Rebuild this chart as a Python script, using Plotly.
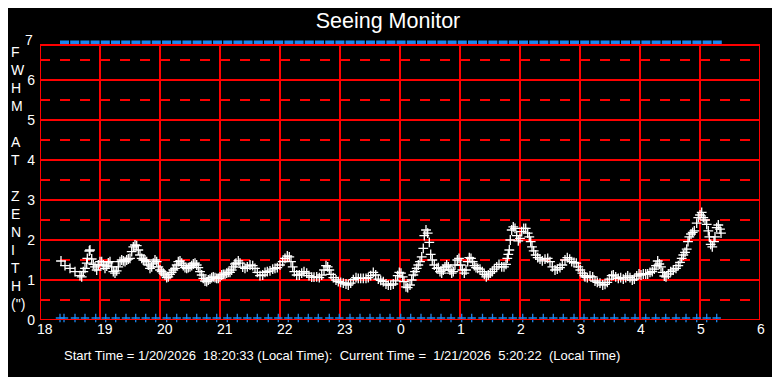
import plotly.graph_objects as go

# ---------------- data ----------------
# minutes after 18:00 local time (20 Jan 2026) and FWHM at zenith (arcsec)
fwhm_minutes = [
    21, 25, 30, 35, 40, 41.7, 43.3, 45, 46.7, 47.3, 49.3, 50, 51.7, 53.3, 55, 56.7, 58.3, 60,
    61.7, 63.3, 65, 66.7, 68.3, 70, 71.7, 73.3, 75, 76.7, 78.3, 80, 81.7, 83.3, 85, 86.7, 88.3,
    90, 91.7, 93.3, 95, 96.7, 98.3, 100, 101.7, 103.3, 105, 106.7, 108.3, 110, 111.7, 113.3,
    115, 116.7, 118.3, 120, 121.7, 123.3, 125, 126.7, 128.3, 130, 131.7, 133.3, 135, 136.7,
    138.3, 140, 141.7, 143.3, 145, 146.7, 148.3, 150, 151.7, 153.3, 155, 156.7, 158.3, 160,
    161.7, 163.3, 165, 166.7, 168.3, 170, 171.7, 173.3, 175, 176.7, 178.3, 180, 181.7, 183.3,
    185, 186.7, 188.3, 190, 191.7, 193.3, 195,
    196, 198.3, 200, 202.7, 205, 207.3, 210, 212.7, 215, 217.3, 220, 222.7, 225, 227.3, 230,
    232.7, 235, 237.3, 240, 242.7, 245, 247.3, 249.3, 251, 252.7, 254.3, 256.7, 259.3, 261.7,
    264, 266.7, 269, 271.7, 274, 276.7, 279.3, 281.7, 284, 286, 287.7, 289.3, 291, 293.3, 296,
    298.3, 300.7, 303.3, 306, 308.3, 310.7, 313.3, 316, 318.3, 320.7, 323.3, 326, 328.3, 330.7,
    333.3, 335.7, 338.3, 340.7, 343.3, 346, 348.3, 350.7, 353.3, 355.7, 357.7, 359.3, 361,
    362.7, 364, 366, 367.7,
    370, 371.7, 373.3, 375, 376.7, 378.3, 380, 381.7, 383.3, 384.3, 386, 387.7, 389.3, 390.7,
    392.3, 394.3, 396.7, 398.3, 400, 401.7, 403.3, 405, 406.7, 408.3, 410, 411.7, 413.3, 415,
    417.3, 419, 420.7, 422.3, 424.3, 426, 427.7, 429.3, 431, 432.7, 434.3, 436, 437.7, 440,
    442.3, 444.3, 446.3, 448.3, 450.3, 452.3, 454.3, 456.7, 459, 461.7, 464, 466, 467.3, 468.3,
    469.3, 470.3, 471.7, 473.3, 475, 476.7, 478.3, 480, 481.7, 483.7, 485.7, 487.7, 489.3,
    490.7, 492, 493.7, 495.7, 497.7, 500, 502.3, 505, 507.7, 510, 512.3, 515, 517.3, 520,
    522.3, 525, 527.3, 529.7, 531.7, 534, 536.3, 538.3, 540.3, 542.3, 544.3,
    545, 547.3, 550, 552.7, 555, 557.3, 560, 562.7, 565, 567.3, 569.3, 571.7, 573.3, 575.7,
    578.3, 580.7, 583.3, 585.7, 587.7, 590, 592.3, 594.3, 596.7, 599, 601, 603.3, 605.7, 607.7,
    610, 612.3, 614.3, 616, 617.7, 619.3, 621, 622.7, 624.3, 626, 628.3, 630.7, 633.3, 636,
    638.3, 640, 641.7, 643.3, 645, 646.7, 648, 649.3, 651, 652.7, 654.3, 656.7, 658.3, 660,
    661.7, 663.3, 665, 666.7, 668.3, 669.3, 670.7, 672.3, 674, 675, 676.7, 678.3, 680, 681,
]
fwhm_values = [
    1.475, 1.36, 1.29, 1.21, 1.11, 1.08, 1.21, 1.29, 1.42, 1.54, 1.725, 1.75, 1.525, 1.39, 1.33,
    1.25, 1.375, 1.46, 1.46, 1.375, 1.29, 1.35, 1.43, 1.46, 1.33, 1.21, 1.17, 1.23, 1.33, 1.46,
    1.5, 1.48, 1.46, 1.5, 1.525, 1.54, 1.71, 1.83, 1.875, 1.86, 1.75, 1.625, 1.54, 1.5, 1.5,
    1.46, 1.375, 1.29, 1.33, 1.42, 1.5, 1.46, 1.33, 1.25, 1.21, 1.17, 1.125, 1.06, 1.08, 1.14,
    1.19, 1.25, 1.29, 1.375, 1.46, 1.48, 1.42, 1.36, 1.31, 1.29, 1.31, 1.33, 1.36, 1.4, 1.42,
    1.375, 1.31, 1.21, 1.125, 1.04, 0.975, 0.96, 1.0, 1.02, 1.06, 1.08, 1.06, 1.04, 1.04, 1.08,
    1.125, 1.14, 1.14, 1.17, 1.19, 1.19, 1.25, 1.33, 1.4,
    1.42, 1.48, 1.42, 1.32, 1.29, 1.33, 1.375, 1.36, 1.29, 1.19, 1.11, 1.125, 1.19, 1.21, 1.23,
    1.27, 1.29, 1.31, 1.375, 1.46, 1.54, 1.6, 1.58, 1.46, 1.33, 1.21, 1.125, 1.125, 1.17, 1.21,
    1.17, 1.11, 1.07, 1.07, 1.08, 1.06, 1.125, 1.25, 1.36, 1.33, 1.25, 1.14, 1.06, 1.0, 0.96,
    0.94, 0.92, 0.9, 0.875, 0.92, 1.01, 1.06, 1.04, 1.04, 1.04, 1.04, 1.06, 1.11, 1.19, 1.125,
    1.02, 0.99, 0.96, 0.9, 0.87, 0.87, 0.9, 0.98, 1.11, 1.19, 1.17, 1.08, 0.96, 0.83, 0.81,
    0.875, 1.0, 1.125, 1.21, 1.29, 1.375, 1.46, 1.58, 1.79, 2.11, 2.25, 2.17, 1.94, 1.64, 1.5,
    1.375, 1.29, 1.31, 1.21, 1.17, 1.25, 1.33, 1.375, 1.33, 1.25, 1.17, 1.21, 1.375, 1.5, 1.54,
    1.375, 1.25, 1.17, 1.25, 1.46, 1.56, 1.54, 1.46, 1.36, 1.31, 1.29, 1.27, 1.21, 1.14, 1.08,
    1.125, 1.17, 1.21, 1.27, 1.33, 1.39, 1.33, 1.33, 1.39, 1.54, 1.64, 1.75, 2.0, 2.25, 2.33,
    2.29, 2.11, 1.98, 2.04, 2.21, 2.29, 2.29, 2.17, 2.08, 1.96, 1.83, 1.73, 1.625, 1.56, 1.52,
    1.48, 1.52, 1.54, 1.46, 1.33, 1.25, 1.27, 1.31, 1.375, 1.5, 1.56, 1.52, 1.46, 1.44, 1.42,
    1.33, 1.25, 1.17, 1.11,
    1.08, 1.06, 1.1, 1.08, 0.975, 0.94, 0.92, 0.875, 0.89, 0.94, 1.02, 1.11, 1.125, 1.08, 1.04,
    1.06, 1.02, 1.06, 1.1, 1.06, 1.0, 1.02, 1.1, 1.15, 1.125, 1.15, 1.15, 1.15, 1.19, 1.21,
    1.27, 1.36, 1.475, 1.4, 1.33, 1.19, 1.1, 1.08, 1.15, 1.21, 1.25, 1.29, 1.36, 1.44, 1.54,
    1.625, 1.69, 1.77, 1.96, 2.08, 2.15, 2.19, 2.23, 2.42, 2.56, 2.625, 2.69, 2.56, 2.5, 2.39,
    2.23, 2.08, 1.89, 1.83, 1.96, 2.08, 2.31, 2.375, 2.27, 2.17,
]

# lower status markers (minutes after 18:00)
status_minutes = [
    20, 24, 35, 45, 55.7, 65.7, 75.7, 86, 95.7, 105.7, 115.7, 126.7, 136.7, 146.7, 156.7, 166.7,
    176.7, 187.3, 197.3, 207.3, 217.3, 228.3, 238.3, 248.3, 258.3, 268.3, 278.3, 289.3, 299.3,
    310, 320, 330, 340, 350, 360.7, 370.7, 381, 391, 401, 411, 421.7, 431.7, 442.5, 452.5,
    462.7, 472.7, 482.7, 492.7, 503.3, 513.3, 523.3, 534, 544, 554.3, 564.3, 574.3, 585, 595,
    605.7, 615.7, 625.7, 636, 646, 656.7, 666.7, 676.7,
]
status_level = 0.05

# upper band: from start time (18:20:33) to current time (05:20:22), minutes after 18:00
band_minutes = [20.0, 683.0]
band_level = 6.93

hour_ticks = [18, 19, 20, 21, 22, 23, 24, 25, 26, 27, 28, 29, 30]
hour_labels = ["18", "19", "20", "21", "22", "23", "0", "1", "2", "3", "4", "5", "6"]
y_ticks = [0, 1, 2, 3, 4, 5, 6]
y_half_ticks = [0.5, 1.5, 2.5, 3.5, 4.5, 5.5, 6.5]
frame_top = 6.875

title_text = "Seeing Monitor"
footer_text = ("Start Time = 1/20/2026\u00a0 18:20:33 (Local Time):\u00a0 Current Time =\u00a0 "
               "1/21/2026\u00a0 5:20:22\u00a0 (Local Time)")
ylabel_letters = ["F", "W", "H", "M", "", "A", "T", "", "Z", "E", "N", "I", "T", "H", "(\")"]

# ---------------- figure ----------------
def to_hours(mins):
    return [18 + m / 60.0 for m in mins]

FONT = "Liberation Sans, Arial, sans-serif"
RED = "#FF0000"
BLUE = "#1C86EE"

fig = go.Figure()

fig.add_trace(go.Scatter(
    x=to_hours(band_minutes), y=[band_level] * len(band_minutes),
    mode="lines", line=dict(color=BLUE, width=4.5, dash="9px,1.2px"),
    hoverinfo="skip", showlegend=False))

fig.add_trace(go.Scatter(
    x=to_hours(status_minutes), y=[status_level] * len(status_minutes),
    mode="markers",
    marker=dict(symbol="cross-thin", size=6, line=dict(color=BLUE, width=1.3)),
    cliponaxis=False, showlegend=False))

fig.add_trace(go.Scatter(
    x=to_hours(fwhm_minutes), y=fwhm_values,
    mode="markers",
    marker=dict(symbol="cross-thin", size=7, line=dict(color="white", width=1.3)),
    showlegend=False))

# frame and vertical hour grid (stopping at the frame top)
shapes = [dict(type="rect", xref="x", yref="y", x0=hour_ticks[0], x1=hour_ticks[-1],
               y0=0, y1=frame_top, line=dict(color=RED, width=2), layer="above")]
for h in hour_ticks[1:-1]:
    shapes.append(dict(type="line", xref="x", yref="y", x0=h, x1=h, y0=0, y1=frame_top,
                       line=dict(color=RED, width=2), layer="below"))

annotations = [dict(text="7", x=0, xref="paper", xanchor="right", xshift=-5,
                    y=7, yref="y", yanchor="middle", showarrow=False,
                    font=dict(family=FONT, size=14, color="white"))]
step = 0.45
top_val = 6.7
for i, ch in enumerate(ylabel_letters):
    if ch:
        annotations.append(dict(text=ch, x=-0.0437, xref="paper", xanchor="left",
                                y=top_val - i * step, yref="y", yanchor="middle",
                                showarrow=False,
                                font=dict(family=FONT, size=14, color="white")))
annotations.append(dict(text=footer_text, x=0.0306, xref="paper", xanchor="left",
                        y=-0.125, yref="paper", yanchor="middle", showarrow=False,
                        font=dict(family=FONT, size=13, color="white")))

# page body adds an 8px offset; figure is sized so the page area matches 780x377
fig.update_layout(
    width=772, height=369,
    margin=dict(l=32, r=20, t=32, b=57),
    paper_bgcolor="black", plot_bgcolor="black",
    title=dict(text=title_text, x=0.4922, xanchor="center", xref="container",
               y=0.9675, yanchor="middle",
               font=dict(family=FONT, size=21.5, color="white")),
    font=dict(family=FONT, color="white"),
    annotations=annotations,
    shapes=shapes,
    xaxis=dict(range=[18, 30], tickvals=hour_ticks, ticktext=hour_labels,
               showgrid=False, zeroline=False, showline=False,
               ticks="", ticklabelstandoff=-1,
               ticklabelposition="outside right", ticklabelshift=-3,
               tickfont=dict(family=FONT, size=14, color="white")),
    yaxis=dict(range=[0, 7], tickvals=y_ticks,
               showgrid=True, gridcolor=RED, gridwidth=2, zeroline=False,
               showline=False,
               ticks="", ticklabelstandoff=4,
               tickfont=dict(family=FONT, size=14, color="white"),
               minor=dict(tickvals=y_half_ticks, showgrid=True, gridcolor=RED,
                          gridwidth=2, griddash="10px,10px", ticks="")),
)

fig.write_html("out.html")
